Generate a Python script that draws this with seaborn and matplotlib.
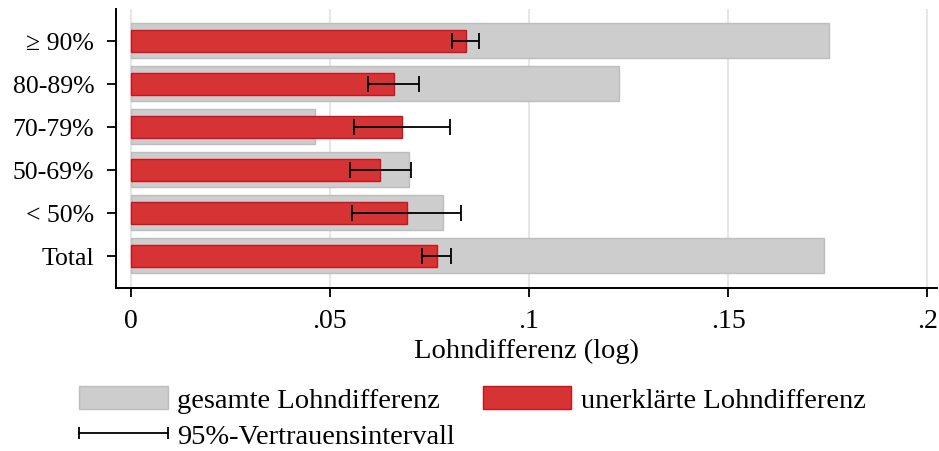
import matplotlib
matplotlib.use("Agg")
import matplotlib.pyplot as plt
import seaborn as sns
import pandas as pd
import numpy as np
from matplotlib.patches import Patch
from matplotlib.lines import Line2D
from matplotlib.legend_handler import HandlerLine2D

# Wage gap by share of women in occupation
categories = ["\u2265 90%", "80-89%", "70-79%", "50-69%", "< 50%", "Total"]
total_gap = [0.1753, 0.1226, 0.0462, 0.0698, 0.0785, 0.1742]
unexplained_gap = [0.0842, 0.0662, 0.0682, 0.0627, 0.0693, 0.0770]
ci_low = [0.0808, 0.0595, 0.0560, 0.0550, 0.0555, 0.0731]
ci_high = [0.0874, 0.0725, 0.0801, 0.0704, 0.0829, 0.0805]

x_ticks = [0, 0.05, 0.10, 0.15, 0.20]
x_ticklabels = ["0", ".05", ".1", ".15", ".2"]

df = pd.DataFrame({"cat": categories, "total": total_gap, "unexpl": unexplained_gap,
                   "lo": ci_low, "hi": ci_high})

sns.set_theme(style="white")
plt.rcParams["font.family"] = ["Liberation Serif", "DejaVu Serif"]
plt.rcParams["text.color"] = "black"

GRAY = "#cdcdcd"
GRAY_EDGE = "#bdbdbd"
RED = "#d63434"
RED_EDGE = "#c8141e"

fig = plt.figure(figsize=(9.39, 4.52), dpi=100)
ax = fig.add_axes([0.1235, 0.3606, 0.8745, 0.6174])

ax.set_axisbelow(True)
ax.xaxis.grid(True, color="#e6e6e6", linewidth=1.5)

sns.barplot(data=df, y="cat", x="total", order=categories, orient="h",
            color=GRAY, edgecolor=GRAY_EDGE, linewidth=1.0, width=0.82,
            saturation=1, ax=ax)
sns.barplot(data=df, y="cat", x="unexpl", order=categories, orient="h",
            color=RED, edgecolor=RED_EDGE, linewidth=1.0, width=0.52,
            saturation=1, ax=ax)

pos = np.arange(len(categories))
ax.errorbar(df["unexpl"], pos,
            xerr=[df["unexpl"] - df["lo"], df["hi"] - df["unexpl"]],
            fmt="none", ecolor="black", elinewidth=1.3, capsize=6, capthick=1.3,
            zorder=5)

ax.set_xlim(-0.0037, 0.2025)
ax.set_ylim(5.75, -0.74)
ax.set_xticks(x_ticks)
ax.set_xticklabels(x_ticklabels)

for s in ["top", "right"]:
    ax.spines[s].set_visible(False)
for s in ["left", "bottom"]:
    ax.spines[s].set_color("black")
    ax.spines[s].set_linewidth(1.4)

ax.tick_params(axis="both", which="both", direction="out", length=6.7, width=1.3,
               color="black", labelcolor="black", left=True, bottom=True)
ax.tick_params(axis="y", labelsize=18.5, pad=9)
ax.tick_params(axis="x", labelsize=20, pad=8)
ax.set_ylabel("")
ax.set_xlabel("Lohndifferenz (log)", fontsize=20.5, color="black", labelpad=3)

h_total = Patch(facecolor=GRAY, edgecolor=GRAY_EDGE, linewidth=1.0)
h_unexpl = Patch(facecolor=RED, edgecolor=RED_EDGE, linewidth=1.0)
h_ci = Line2D([0, 1], [0, 0], color="black", linewidth=1.3, marker="|",
              markersize=9, markeredgewidth=1.3)

leg = fig.legend([h_total, h_ci, h_unexpl],
                 ["gesamte Lohndifferenz", "95%-Vertrauensintervall",
                  "unerklärte Lohndifferenz"],
                 ncol=2, loc="upper left", bbox_to_anchor=(79.3 / 939, 1 - 387 / 452),
                 frameon=False, fontsize=20.5, handlelength=3.1, handleheight=0.87,
                 handletextpad=0.33, columnspacing=1.0, labelspacing=0.3,
                 borderaxespad=0, borderpad=0, labelcolor="black",
                 handler_map={h_ci: HandlerLine2D(numpoints=2, marker_pad=0)})

fig.savefig("out.png", dpi=100, facecolor="white")
